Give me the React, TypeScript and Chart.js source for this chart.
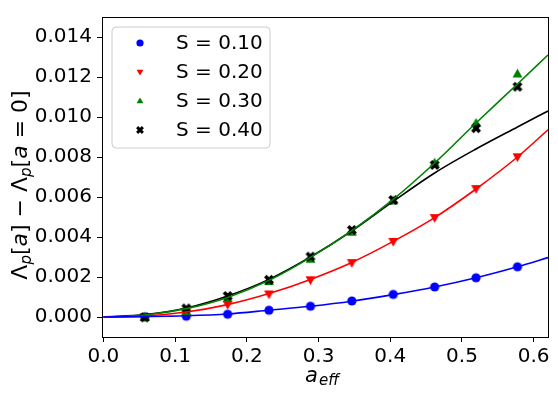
import React, { useEffect, useRef } from 'react';
import { Chart, registerables } from 'chart.js';

Chart.register(...registerables);

// ---- data ----
const xPoints = [0.0577, 0.1155, 0.1732, 0.2309, 0.2887, 0.3464, 0.4041, 0.4619, 0.5196, 0.5774];
const s10Points = [0.00001, 0.00004, 0.00014, 0.00034, 0.00054, 0.0008, 0.00113, 0.0015, 0.00196, 0.00251];
const s20Points = [0.00002, 0.00025, 0.00063, 0.00115, 0.00186, 0.00272, 0.00378, 0.00497, 0.00642, 0.00801];
const s30Points = [-0.00002, 0.00027, 0.00092, 0.00177, 0.00289, 0.00424, 0.0058, 0.0077, 0.00969, 0.01215];
const s40Points = [-0.00002, 0.00043, 0.00105, 0.00186, 0.00302, 0.00435, 0.00585, 0.0076, 0.00944, 0.01151];

const lineX = [0, 0.0577, 0.1155, 0.1732, 0.2309, 0.2887, 0.3464, 0.4041, 0.4619, 0.5196, 0.5774, 0.62];
const s10Line = [0, 0.00002, 0.00006, 0.00015, 0.00034, 0.00054, 0.00079, 0.00112, 0.0015, 0.00196, 0.00251, 0.00297];
const s20Line = [0, 0.00005, 0.00025, 0.00062, 0.00117, 0.00188, 0.00273, 0.00378, 0.00497, 0.0064, 0.008, 0.00936];
const s30Line = [0, 0.0001, 0.00042, 0.00098, 0.00183, 0.00298, 0.00432, 0.00588, 0.0077, 0.0097, 0.01165, 0.0131];
const s40Line = [0, 0.00012, 0.00045, 0.00105, 0.00188, 0.003, 0.0043, 0.00578, 0.0072, 0.0084, 0.0095, 0.0103];

const seriesLabels = ['S = 0.10', 'S = 0.20', 'S = 0.30', 'S = 0.40'];
const xTicks = [0.0, 0.1, 0.2, 0.3, 0.4, 0.5, 0.6];
const yTicks = [0.0, 0.002, 0.004, 0.006, 0.008, 0.01, 0.012, 0.014];

const colors = ['#0000ff', '#ff0000', '#008000', '#000000'];
const markers = ['circle', 'triangleDown', 'triangleUp', 'x'];
const FONT = "'DejaVu Sans', sans-serif";

function drawMarker(ctx: CanvasRenderingContext2D, m: string, x: number, y: number, r: number, color: string) {
  ctx.save();
  ctx.fillStyle = color;
  ctx.strokeStyle = color;
  ctx.beginPath();
  if (m === 'circle') {
    ctx.arc(x, y, r, 0, Math.PI * 2);
    ctx.fill();
  } else if (m === 'triangleUp') {
    ctx.moveTo(x, y - r);
    ctx.lineTo(x + r * 0.95, y + r * 0.65);
    ctx.lineTo(x - r * 0.95, y + r * 0.65);
    ctx.closePath();
    ctx.fill();
  } else if (m === 'triangleDown') {
    ctx.moveTo(x, y + r);
    ctx.lineTo(x + r * 0.95, y - r * 0.65);
    ctx.lineTo(x - r * 0.95, y - r * 0.65);
    ctx.closePath();
    ctx.fill();
  } else {
    ctx.lineWidth = r * 0.8;
    ctx.lineCap = 'butt';
    const d = r * 0.8;
    ctx.moveTo(x - d, y - d);
    ctx.lineTo(x + d, y + d);
    ctx.moveTo(x + d, y - d);
    ctx.lineTo(x - d, y + d);
    ctx.stroke();
  }
  ctx.restore();
}

function makeMarkerCanvas(m: string, r: number, color: string) {
  const size = Math.ceil(r * 2 + 4);
  const c = document.createElement('canvas');
  c.width = size;
  c.height = size;
  const ctx = c.getContext('2d')!;
  drawMarker(ctx, m, size / 2, size / 2, r, color);
  return c;
}

const overlayPlugin = {
  id: 'overlay',
  afterDraw(chart: any) {
    const ctx: CanvasRenderingContext2D = chart.ctx;
    const a = chart.chartArea;
    ctx.save();
    // frame
    ctx.strokeStyle = '#000';
    ctx.lineWidth = 1;
    ctx.strokeRect(Math.round(a.left) + 0.5, Math.round(a.top) + 0.5, Math.round(a.right - a.left), Math.round(a.bottom - a.top));

    // legend
    const lx = a.left + 10, ly = a.top + 10, lw = 158, lh = 121, rr = 4;
    ctx.beginPath();
    ctx.moveTo(lx + rr, ly);
    ctx.lineTo(lx + lw - rr, ly);
    ctx.quadraticCurveTo(lx + lw, ly, lx + lw, ly + rr);
    ctx.lineTo(lx + lw, ly + lh - rr);
    ctx.quadraticCurveTo(lx + lw, ly + lh, lx + lw - rr, ly + lh);
    ctx.lineTo(lx + rr, ly + lh);
    ctx.quadraticCurveTo(lx, ly + lh, lx, ly + lh - rr);
    ctx.lineTo(lx, ly + rr);
    ctx.quadraticCurveTo(lx, ly, lx + rr, ly);
    ctx.closePath();
    ctx.fillStyle = 'rgba(255,255,255,0.8)';
    ctx.fill();
    ctx.strokeStyle = '#cccccc';
    ctx.lineWidth = 1;
    ctx.stroke();
    ctx.font = `20px ${FONT}`;
    ctx.textBaseline = 'middle';
    ctx.textAlign = 'left';
    ctx.fillStyle = '#000';
    seriesLabels.forEach((lab, i) => {
      const cy = ly + 16 + i * 29;
      drawMarker(ctx, markers[i], lx + 28, cy, 3.6, colors[i]);
      ctx.fillStyle = '#000';
      ctx.fillText(lab, lx + 64, cy + 1);
    });

    // x title: a_eff
    ctx.fillStyle = '#000';
    ctx.textBaseline = 'alphabetic';
    ctx.textAlign = 'left';
    ctx.font = `italic 21px ${FONT}`;
    const wa = ctx.measureText('a').width;
    ctx.font = `italic 15px ${FONT}`;
    const we = ctx.measureText('eff').width;
    const xs = 322 - (wa + we + 1) / 2;
    ctx.font = `italic 21px ${FONT}`;
    ctx.fillText('a', xs, 381.5);
    ctx.font = `italic 15px ${FONT}`;
    ctx.fillText('eff', xs + wa + 1, 385);

    // y title: Λ_p[a] − Λ_p[a = 0]
    const segs: [string, string][] = [
      ['Λ', 'n'], ['p', 's'], ['[', 'n'], ['a', 'i'], [']', 'n'], [' − ', 'n'],
      ['Λ', 'n'], ['p', 's'], ['[', 'n'], ['a', 'i'], [' = ', 'n'], ['0', 'n'], [']', 'n'],
    ];
    const fontFor = (k: string) => (k === 'n' ? `22px ${FONT}` : k === 'i' ? `italic 22px ${FONT}` : `italic 15px ${FONT}`);
    let total = 0;
    const widths = segs.map(([t, k]) => {
      ctx.font = fontFor(k);
      const w = ctx.measureText(t).width;
      total += w;
      return w;
    });
    ctx.translate(27, 185);
    ctx.rotate(-Math.PI / 2);
    let cx = -total / 2;
    segs.forEach(([t, k], i) => {
      ctx.font = fontFor(k);
      ctx.fillText(t, cx, k === 's' ? 4 : 0);
      cx += widths[i];
    });
    ctx.restore();
  },
};

export default function App() {
  const ref = useRef<HTMLCanvasElement>(null);
  useEffect(() => {
    if (!ref.current) return;
    Chart.defaults.font.family = FONT;
    const pointSets = [s10Points, s20Points, s30Points, s40Points];
    const lineSets = [s10Line, s20Line, s30Line, s40Line];
    const markerRadius = [4.6, 5.2, 5.2, 4.6];
    const datasets: any[] = [];
    lineSets.forEach((ls, i) => {
      datasets.push({
        label: seriesLabels[i] + ' fit',
        data: lineX.map((x, j) => ({ x, y: ls[j] })),
        showLine: true,
        borderColor: colors[i],
        backgroundColor: colors[i],
        borderWidth: 1.6,
        pointRadius: 0,
        cubicInterpolationMode: 'monotone',
        order: i,
      });
    });
    pointSets.forEach((ps, i) => {
      datasets.push({
        label: seriesLabels[i],
        data: xPoints.map((x, j) => ({ x, y: ps[j] })),
        showLine: false,
        pointStyle: makeMarkerCanvas(markers[i], markerRadius[i], colors[i]),
        pointRadius: markerRadius[i],
        backgroundColor: colors[i],
        borderColor: colors[i],
        order: 10 - i,
      });
    });
    const chart = new Chart(ref.current, {
      type: 'scatter',
      data: { datasets },
      plugins: [overlayPlugin],
      options: {
        responsive: false,
        animation: false,
        layout: { padding: { left: 0, right: 10, top: 12, bottom: 0 } },
        plugins: { legend: { display: false }, tooltip: { enabled: false } },
        scales: {
          x: {
            type: 'linear',
            min: -0.002,
            max: 0.62,
            afterBuildTicks: (s: any) => {
              s.ticks = xTicks.map((v) => ({ value: v }));
            },
            afterFit: (s: any) => {
              s.height = 56;
            },
            ticks: {
              callback: (v: any) => Number(v).toFixed(1),
              font: { size: 20, family: FONT },
              color: '#000',
              padding: 3,
              maxRotation: 0,
              autoSkip: false,
            },
            grid: { drawOnChartArea: false, drawTicks: true, tickLength: 5, color: '#000' },
            border: { display: true, color: '#000' },
          },
          y: {
            type: 'linear',
            min: -0.001,
            max: 0.015,
            afterBuildTicks: (s: any) => {
              s.ticks = yTicks.map((v) => ({ value: v }));
            },
            afterFit: (s: any) => {
              s.width = 102;
            },
            ticks: {
              callback: (v: any) => Number(v).toFixed(3),
              font: { size: 20, family: FONT },
              color: '#000',
              padding: 5,
              autoSkip: false,
            },
            grid: { drawOnChartArea: false, drawTicks: true, tickLength: 5, color: '#000' },
            border: { display: true, color: '#000' },
          },
        },
      } as any,
    });
    return () => chart.destroy();
  }, []);
  return (
    <div style={{ position: 'fixed', left: 0, top: 0, width: 558, height: 393, background: '#fff' }}>
      <canvas ref={ref} width={558} height={393} style={{ width: 558, height: 393, display: 'block' }} />
    </div>
  );
}
